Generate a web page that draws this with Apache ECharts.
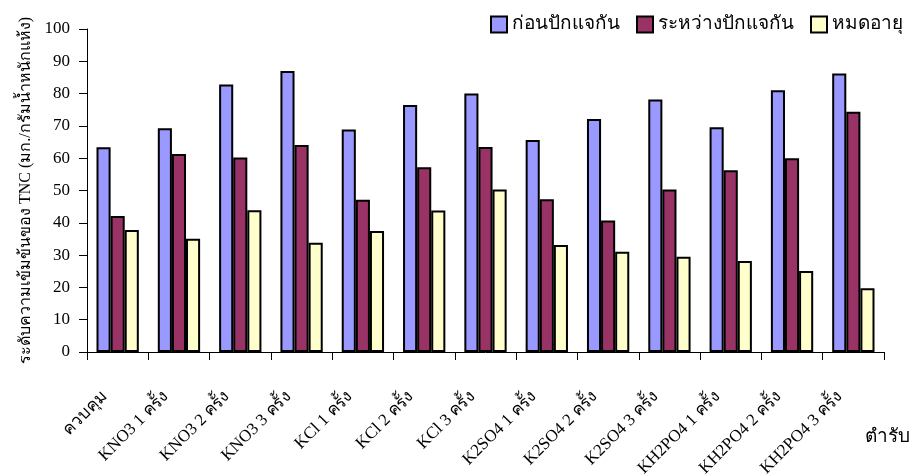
<!DOCTYPE html>
<html>
<head>
<meta charset="utf-8">
<script src="https://cdn.jsdelivr.net/npm/echarts@6/dist/echarts.min.js"></script>
<style>
  html, body { margin: 0; padding: 0; background: #fff; }
  #chart { width: 914px; height: 474px; }
</style>
</head>
<body>
<div id="chart"></div>
<script>
// Treatments (categories along the x axis)
const categories = [
  'ควบคุม',
  'KNO3 1 ครั้ง', 'KNO3 2 ครั้ง', 'KNO3 3 ครั้ง',
  'KCl 1 ครั้ง', 'KCl 2 ครั้ง', 'KCl 3 ครั้ง',
  'K2SO4 1 ครั้ง', 'K2SO4 2 ครั้ง', 'K2SO4 3 ครั้ง',
  'KH2PO4 1 ครั้ง', 'KH2PO4 2 ครั้ง', 'KH2PO4 3 ครั้ง'
];

// TNC concentration (mg/g dry weight) at each stage
const beforeVase = [63.4, 69.3, 82.8, 87.0, 68.9, 76.5, 80.0, 65.6, 72.1, 78.2, 69.6, 81.0, 86.2];
const duringVase = [42.1, 61.3, 60.2, 64.1, 47.1, 57.2, 63.5, 47.3, 40.7, 50.3, 56.3, 60.0, 74.4];
const endOfLife  = [37.8, 35.1, 43.9, 33.8, 37.5, 43.8, 50.3, 33.1, 31.0, 29.5, 28.2, 25.1, 19.7];

const seriesNames = ['ก่อนปักแจกัน', 'ระหว่างปักแจกัน', 'หมดอายุ'];
const seriesColors = ['#9999FF', '#993366', '#FFFFCC'];

const yTicks = { min: 0, max: 100, interval: 10 };

const FONT = "'Liberation Serif', 'Times New Roman', serif";

const chart = echarts.init(document.getElementById('chart'), null, { renderer: 'canvas' });

const dataSets = [beforeVase, duringVase, endOfLife];

chart.setOption({
  animation: false,
  backgroundColor: '#ffffff',
  textStyle: { fontFamily: FONT, color: '#000' },
  grid: {
    left: 87, right: 30, top: 29, bottom: 122,
    containLabel: false,
    outerBoundsMode: 'none'
  },
  legend: {
    top: 10,
    right: 6,
    icon: 'rect',
    itemWidth: 16,
    itemHeight: 16,
    itemGap: 16,
    textStyle: { fontFamily: FONT, fontSize: 19, color: '#000' },
    data: seriesNames
  },
  xAxis: {
    type: 'category',
    data: categories,
    axisLine: { lineStyle: { color: '#000', width: 1 } },
    axisTick: { show: true, length: 8, lineStyle: { color: '#000' } },
    axisLabel: {
      rotate: 45,
      interval: 0,
      margin: 29,
      padding: [0, 19, 0, 0],
      fontFamily: FONT,
      fontSize: 17,
      color: '#000'
    },
    splitLine: { show: false }
  },
  yAxis: {
    type: 'value',
    min: yTicks.min,
    max: yTicks.max,
    interval: yTicks.interval,
    name: 'ระดับความเข้มข้นของ TNC (มก./กรัมน้ำหนักแห้ง)',
    nameLocation: 'middle',
    nameRotate: 90,
    nameGap: 50,
    nameTextStyle: { fontFamily: FONT, fontSize: 16, color: '#000' },
    axisLine: { show: true, lineStyle: { color: '#000', width: 1 } },
    axisTick: { show: true, length: 8, lineStyle: { color: '#000' } },
    axisLabel: { margin: 17, fontFamily: FONT, fontSize: 17, color: '#000' },
    splitLine: { show: false }
  },
  graphic: [
    {
      type: 'text',
      right: 4,
      top: 428,
      style: { text: 'ตำรับ', font: "19px 'Liberation Serif', serif", fill: '#000' }
    }
  ],
  series: seriesNames.map((name, i) => ({
    name,
    type: 'bar',
    data: dataSets[i],
    barGap: '0%',
    barCategoryGap: '31%',
    itemStyle: { color: seriesColors[i], borderColor: '#000', borderWidth: 2 }
  }))
});
</script>
</body>
</html>
